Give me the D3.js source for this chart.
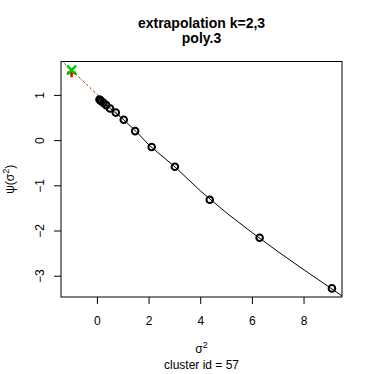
<!DOCTYPE html>
<html><head><meta charset="utf-8">
<script src="https://cdn.jsdelivr.net/npm/d3@7"></script>
<style>body{margin:0;background:#fff}svg{display:block}text{font-family:"Liberation Sans",Arial,sans-serif}</style>
</head><body>
<script>
// observed points
const sigma2 = [0.08, 0.115, 0.165, 0.235, 0.34, 0.49, 0.71, 1.02, 1.46, 2.1, 3.0, 4.35, 6.28, 9.08];
const psi    = [0.91, 0.89, 0.865, 0.835, 0.785, 0.71, 0.62, 0.46, 0.21, -0.14, -0.58, -1.31, -2.15, -3.27];
// poly.3 fitted curve
const fitX = [0.08, 0.5, 1, 1.5, 2, 3, 4, 5, 6, 7, 8, 9, 9.5];
const fitY = [0.91, 0.71, 0.47, 0.2, -0.1, -0.58, -1.12, -1.6, -2.04, -2.46, -2.86, -3.25, -3.45];
// extrapolation lines (k=2 red, k=3 green)
const extX = [-1.42, -1, 0.5, 1.02];
const extY = [1.78, 1.56, 0.74, 0.46];
// extrapolated values at sigma2 = -1
const extrapK2 = {x: -1, y: 1.50};
const extrapK3 = {x: -1, y: 1.56};
const xTicks = [0, 2, 4, 6, 8];
const yTicks = [-3, -2, -1, 0, 1];

const W = 374, H = 374;
const L = 61, R = 342, T = 61.5, B = 297;
const svg = d3.select("body").append("svg").attr("width", W).attr("height", H);
const x = d3.scaleLinear().domain([-1.41, 9.47]).range([L, R]);
const y = d3.scaleLinear().domain([-3.46, 1.75]).range([B, T]);

const clip = svg.append("clipPath").attr("id","c").append("rect").attr("x",L).attr("y",T).attr("width",R-L).attr("height",B-T);
const g = svg.append("g").attr("clip-path","url(#c)");
const line = d3.line().x(d=>x(d[0])).y(d=>y(d[1]));
const ext = extX.map((v,i)=>[v, extY[i]]);
g.append("path").attr("d", line(ext)).attr("fill","none").attr("stroke","#00cd00").attr("stroke-width",1).attr("stroke-dasharray","1,3");
g.append("path").attr("d", line(ext)).attr("fill","none").attr("stroke","#ff0000").attr("stroke-width",1).attr("stroke-dasharray","2,3");
g.append("path").attr("d", line(fitX.map((v,i)=>[v, fitY[i]]))).attr("fill","none").attr("stroke","#000").attr("stroke-width",1);

g.selectAll("circle.p").data(sigma2.map((v,i)=>[v, psi[i]])).enter().append("circle")
  .attr("cx", d=>x(d[0])).attr("cy", d=>y(d[1])).attr("r", 3.3)
  .attr("fill","none").attr("stroke","#000").attr("stroke-width",2);

// red plus (k=2)
const s = 4.5;
const px = x(extrapK2.x), py = y(extrapK2.y);
g.append("path").attr("d", `M${px-s},${py}L${px+s},${py}M${px},${py-s}L${px},${py+s}`).attr("stroke","#ff0000").attr("stroke-width",2.5);
const qx = x(extrapK3.x), qy = y(extrapK3.y);
g.append("path").attr("d", `M${qx-s},${qy-s}L${qx+s},${qy+s}M${qx-s},${qy+s}L${qx+s},${qy-s}`).attr("stroke","#00cd00").attr("stroke-width",2.5);

svg.append("rect").attr("x",L).attr("y",T).attr("width",R-L).attr("height",B-T).attr("fill","none").attr("stroke","#000").attr("stroke-width",1);

// axes
const xa = svg.append("g");
xTicks.forEach(t=>{
  xa.append("line").attr("x1",x(t)).attr("x2",x(t)).attr("y1",B).attr("y2",B+7).attr("stroke","#000");
  xa.append("text").attr("x",x(t)).attr("y",325).attr("text-anchor","middle").attr("font-size",12).text(t);
});
const ya = svg.append("g");
yTicks.forEach(t=>{
  ya.append("line").attr("x1",L-7).attr("x2",L).attr("y1",y(t)).attr("y2",y(t)).attr("stroke","#000");
  ya.append("text").attr("transform",`translate(44,${y(t)}) rotate(-90)`).attr("text-anchor","middle").attr("font-size",12).text(t < 0 ? "\u2212" + Math.abs(t) : t);
});

// titles
svg.append("text").attr("x",(L+R)/2).attr("y",28).attr("text-anchor","middle").attr("font-size",14).attr("font-weight","bold").text("extrapolation k=2,3");
svg.append("text").attr("x",(L+R)/2).attr("y",43).attr("text-anchor","middle").attr("font-size",14).attr("font-weight","bold").text("poly.3");

const xl = svg.append("text").attr("x",(L+R)/2).attr("y",353).attr("text-anchor","middle").attr("font-size",12);
xl.append("tspan").text("\u03c3");
xl.append("tspan").attr("dy",-5).attr("font-size",9).text("2");
svg.append("text").attr("x",(L+R)/2).attr("y",369).attr("text-anchor","middle").attr("font-size",12).text("cluster id = 57");

const yl = svg.append("text").attr("transform",`translate(14,${(T+B)/2}) rotate(-90)`).attr("text-anchor","middle").attr("font-size",12);
yl.append("tspan").text("\u03c8(\u03c3");
yl.append("tspan").attr("dy",-5).attr("font-size",9).text("2");
yl.append("tspan").attr("dy",5).text(")");
</script>
</body></html>
